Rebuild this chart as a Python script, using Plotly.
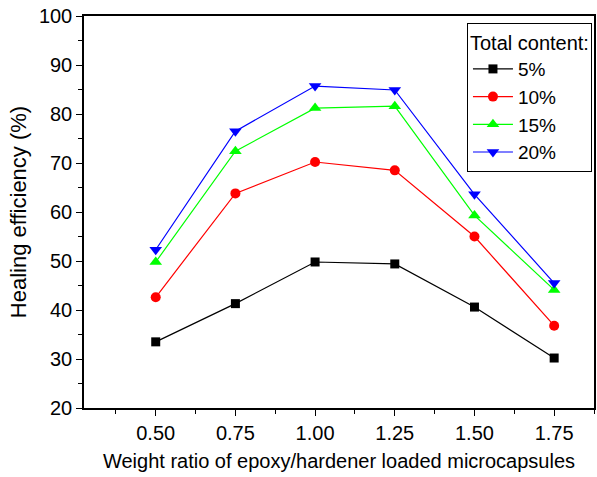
import plotly.graph_objects as go

ratios = [0.50, 0.75, 1.00, 1.25, 1.50, 1.75]
content_5 = [33.5, 41.3, 49.8, 49.4, 40.6, 30.2]
content_10 = [42.6, 63.8, 70.2, 68.5, 55.0, 36.8]
content_15 = [49.8, 72.4, 81.2, 81.6, 59.3, 44.1]
content_20 = [52.3, 76.5, 85.7, 84.9, 63.6, 45.5]

series_names = ["5%", "10%", "15%", "20%"]
series_values = [content_5, content_10, content_15, content_20]
colors = ["#000000", "#ff0000", "#00ff00", "#0000ff"]
symbols = ["square", "circle", "triangle-up", "triangle-down"]
sizes = [9, 10, 11, 11]

FONT = "Liberation Sans, Arial, sans-serif"

fig = go.Figure()
for name, vals, c, s, sz in zip(series_names, series_values, colors, symbols, sizes):
    fig.add_trace(go.Scatter(
        x=ratios, y=vals, name=name, mode="lines+markers",
        line=dict(color=c, width=1.2),
        marker=dict(symbol=s, size=sz, color=c, line=dict(width=0)),
    ))

fig.update_layout(
    width=597, height=477,
    margin=dict(l=84, r=1, t=16, b=69),
    paper_bgcolor="white", plot_bgcolor="white",
    font=dict(family=FONT, size=20, color="black"),
    showlegend=True,
    legend=dict(
        title=dict(text="Total content:", font=dict(size=20)),
        x=0.996, xanchor="right", y=0.982, yanchor="top",
        bordercolor="black", borderwidth=1, bgcolor="white",
        font=dict(size=19), itemwidth=40, tracegroupgap=0,
    ),
)
fig.update_xaxes(
    range=[0.275, 1.875], tickmode="linear", tick0=0.5, dtick=0.25,
    tickformat=".2f", ticks="outside", ticklen=6, tickwidth=1.2, tickcolor="black",
    minor=dict(ticks="outside", ticklen=4, dtick=0.125, tick0=0.375, tickcolor="black", tickwidth=1.2),
    showline=True, linecolor="black", linewidth=1.5, mirror=True,
    showgrid=False, zeroline=False,
    title=dict(text="Weight ratio of epoxy/hardener loaded microcapsules", font=dict(size=20), standoff=11),
)
fig.update_yaxes(
    range=[20, 100], tickmode="linear", tick0=20, dtick=10,
    ticks="outside", ticklen=6, tickwidth=1.2, tickcolor="black",
    minor=dict(ticks="outside", ticklen=4, dtick=5, tickcolor="black", tickwidth=1.2),
    showline=True, linecolor="black", linewidth=1.5, mirror=True,
    showgrid=False, zeroline=False,
    title=dict(text="Healing efficiency (%)", font=dict(size=22), standoff=6),
)

fig.write_html("out.html")
